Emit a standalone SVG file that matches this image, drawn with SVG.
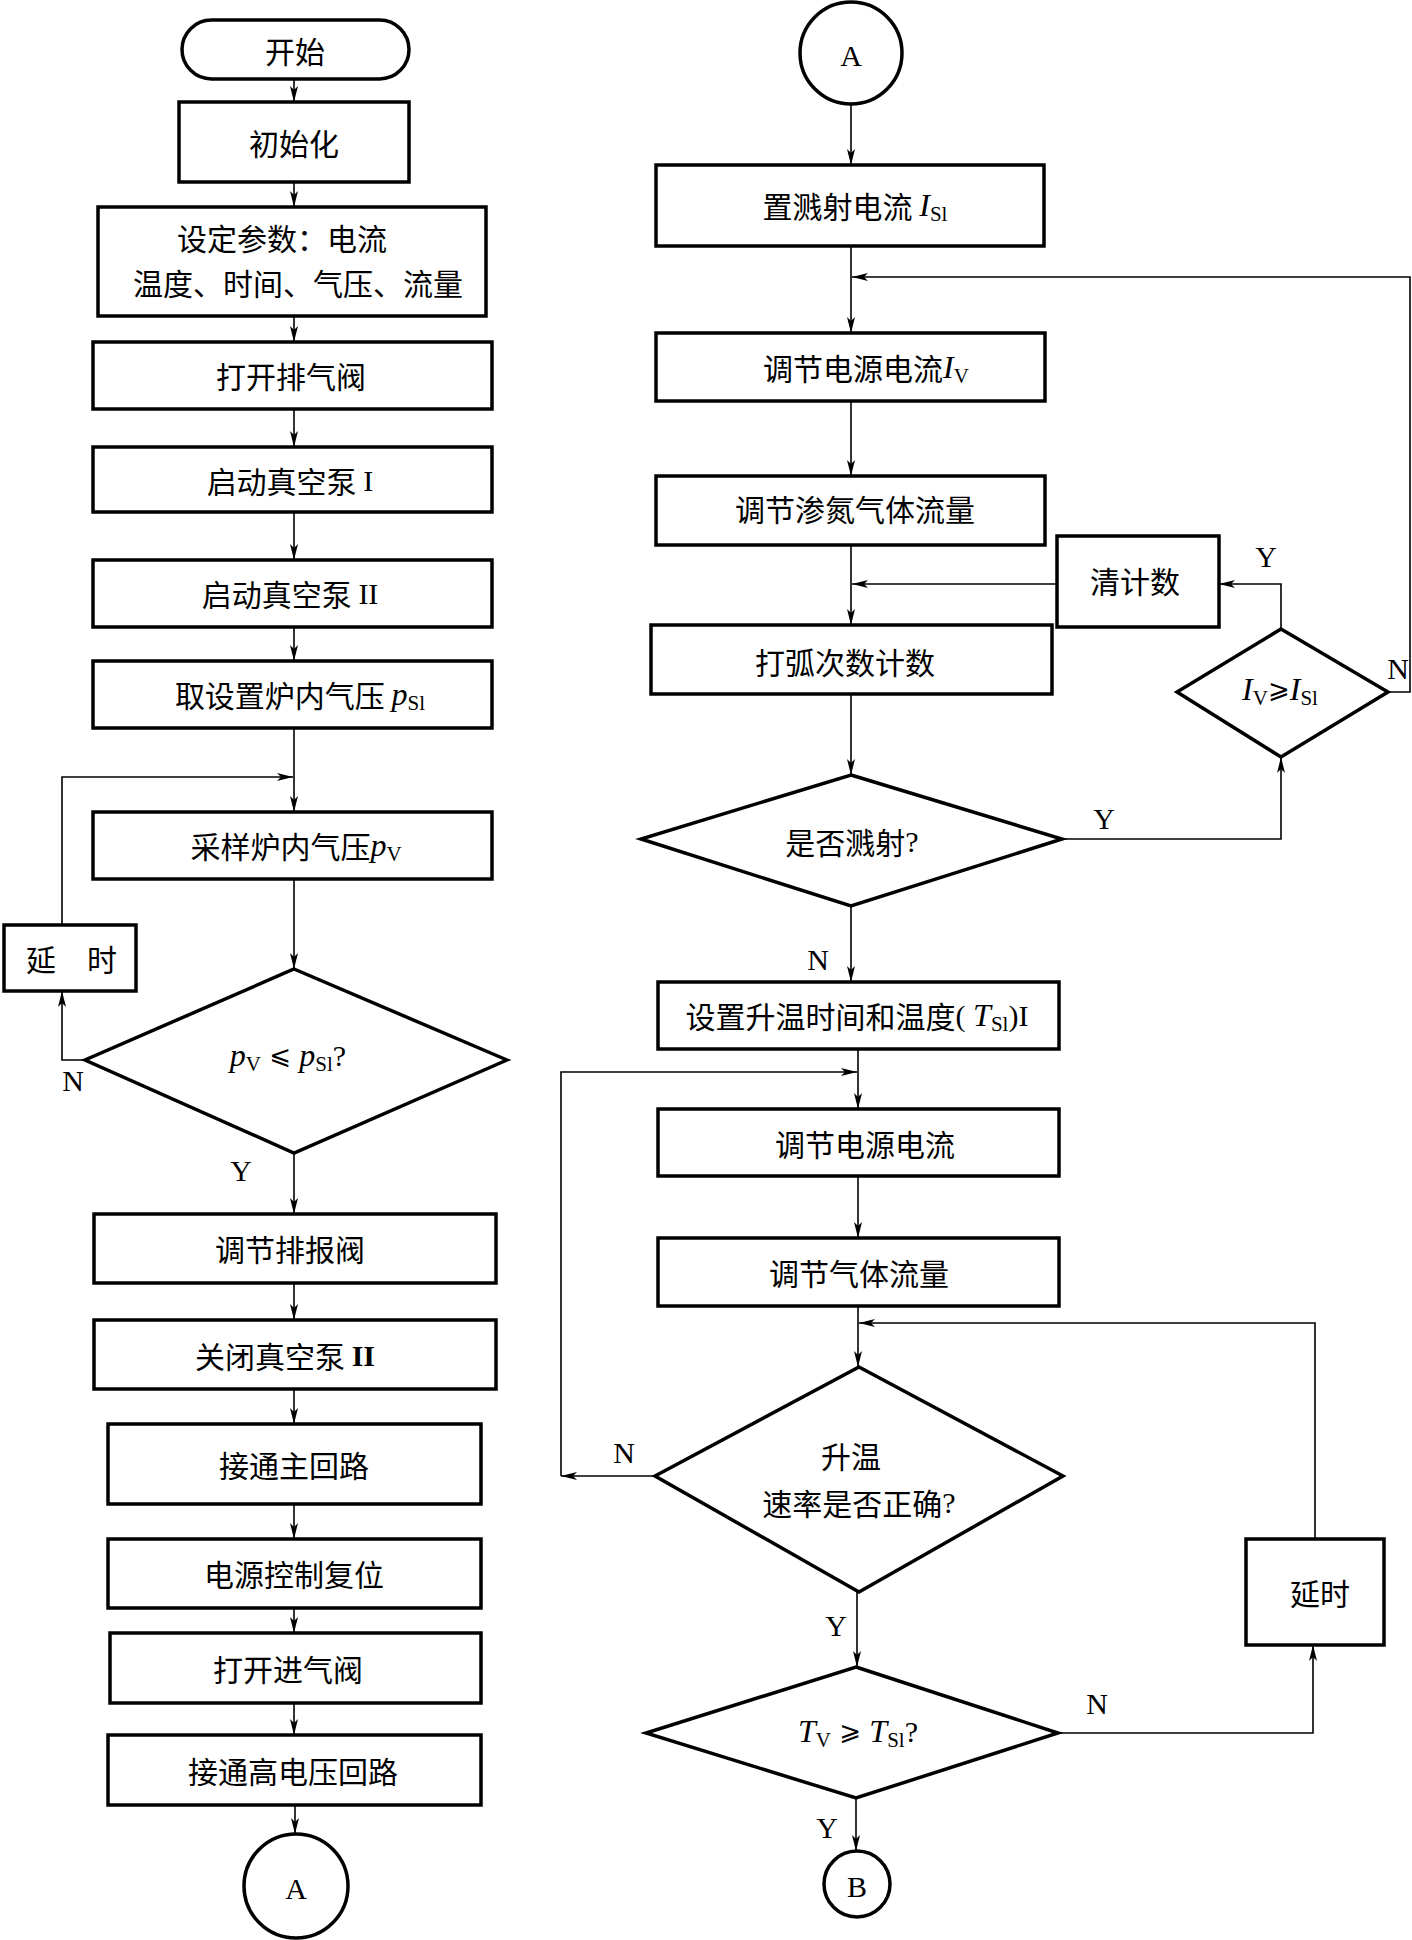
<svg xmlns="http://www.w3.org/2000/svg" width="1412" height="1940" viewBox="0 0 1412 1940">
<style>
.box{fill:#fff;stroke:#000;stroke-width:3.5}
.ln{fill:none;stroke:#000;stroke-width:1.6}
.t{font-family:"Noto Sans CJK SC","Noto Sans CJK TC",sans-serif;font-size:30px;text-anchor:middle;dominant-baseline:central;fill:#000}
.lab{font-family:"Liberation Serif",serif;font-size:30px;text-anchor:middle;dominant-baseline:central;fill:#000}
.it{font-family:"Liberation Serif",serif;font-style:italic;font-size:32px}
.sub{font-family:"Liberation Serif",serif;font-size:21px}
.rm{font-family:"Liberation Serif",serif;font-size:30px}
.sym{font-family:"DejaVu Sans",sans-serif;font-size:26px}
</style>
<defs>
<marker id="ah" viewBox="0 0 16 8" refX="16" refY="4" markerWidth="16" markerHeight="8" markerUnits="userSpaceOnUse" orient="auto">
<path d="M0,0 L16,4 L0,8 L4,4 z" fill="#000"/>
</marker>
</defs>
<rect width="1412" height="1940" fill="#fff"/>

<g id="connectors">
<!-- left column -->
<path class="ln" d="M294,79 V102" marker-end="url(#ah)"/>
<path class="ln" d="M294,182 V207" marker-end="url(#ah)"/>
<path class="ln" d="M294,316 V342" marker-end="url(#ah)"/>
<path class="ln" d="M294,409 V447" marker-end="url(#ah)"/>
<path class="ln" d="M294,512 V560" marker-end="url(#ah)"/>
<path class="ln" d="M294,627 V661" marker-end="url(#ah)"/>
<path class="ln" d="M294,728 V812" marker-end="url(#ah)"/>
<path class="ln" d="M62,925 V777 H293" marker-end="url(#ah)"/>
<path class="ln" d="M294,879 V969" marker-end="url(#ah)"/>
<path class="ln" d="M85,1060 H62 V991" marker-end="url(#ah)"/>
<path class="ln" d="M294,1153 V1214" marker-end="url(#ah)"/>
<path class="ln" d="M294,1283 V1320" marker-end="url(#ah)"/>
<path class="ln" d="M294,1389 V1424" marker-end="url(#ah)"/>
<path class="ln" d="M294,1504 V1539" marker-end="url(#ah)"/>
<path class="ln" d="M294,1608 V1633" marker-end="url(#ah)"/>
<path class="ln" d="M294,1703 V1735" marker-end="url(#ah)"/>
<path class="ln" d="M295,1805 V1834" marker-end="url(#ah)"/>
<!-- right column -->
<path class="ln" d="M851,104 V165" marker-end="url(#ah)"/>
<path class="ln" d="M851,246 V333" marker-end="url(#ah)"/>
<path class="ln" d="M1388,692 H1410 V277 H852" marker-end="url(#ah)"/>
<path class="ln" d="M851,401 V476" marker-end="url(#ah)"/>
<path class="ln" d="M851,545 V625" marker-end="url(#ah)"/>
<path class="ln" d="M1057,584 H852" marker-end="url(#ah)"/>
<path class="ln" d="M1281,629 V584 H1219" marker-end="url(#ah)"/>
<path class="ln" d="M851,694 V775" marker-end="url(#ah)"/>
<path class="ln" d="M1062,839 H1281 V757" marker-end="url(#ah)"/>
<path class="ln" d="M851,906 V982" marker-end="url(#ah)"/>
<path class="ln" d="M858,1049 V1109" marker-end="url(#ah)"/>
<path class="ln" d="M655,1476 H561" marker-end="url(#ah)"/>
<path class="ln" d="M561,1476 V1072 H857" marker-end="url(#ah)"/>
<path class="ln" d="M858,1176 V1238" marker-end="url(#ah)"/>
<path class="ln" d="M858,1306 V1367" marker-end="url(#ah)"/>
<path class="ln" d="M1315,1539 V1323 H859" marker-end="url(#ah)"/>
<path class="ln" d="M857,1592 V1667" marker-end="url(#ah)"/>
<path class="ln" d="M1058,1733 H1313 V1645" marker-end="url(#ah)"/>
<path class="ln" d="M856,1798 V1851" marker-end="url(#ah)"/>
</g>

<g id="labels">
<text class="lab" x="73" y="1080">N</text>
<text class="lab" x="241" y="1170">Y</text>
<text class="lab" x="1266" y="556">Y</text>
<text class="lab" x="1398" y="668">N</text>
<text class="lab" x="1104" y="818">Y</text>
<text class="lab" x="818" y="959">N</text>
<text class="lab" x="624" y="1452">N</text>
<text class="lab" x="836" y="1625">Y</text>
<text class="lab" x="1097" y="1703">N</text>
<text class="lab" x="827" y="1827">Y</text>
</g>

<!-- left column nodes -->
<g id="start">
<rect class="box" x="182" y="20" width="227" height="59" rx="29.5"/>
<text class="t" x="295" y="50">开始</text>
</g>
<g id="init">
<rect class="box" x="179" y="102" width="230" height="80"/>
<text class="t" x="294" y="142">初始化</text>
</g>
<g id="params">
<rect class="box" x="98" y="207" width="388" height="109"/>
<text class="t" x="282" y="237">设定参数：电流</text>
<text class="t" x="298" y="282">温度、时间、气压、流量</text>
</g>
<g id="open-exhaust">
<rect class="box" x="93" y="342" width="399" height="67"/>
<text class="t" x="291" y="375">打开排气阀</text>
</g>
<g id="pump1">
<rect class="box" x="93" y="447" width="399" height="65"/>
<text class="t" x="290" y="480">启动真空泵 <tspan class="rm">I</tspan></text>
</g>
<g id="pump2">
<rect class="box" x="93" y="560" width="399" height="67"/>
<text class="t" x="290" y="593">启动真空泵 <tspan class="rm">II</tspan></text>
</g>
<g id="set-pressure">
<rect class="box" x="93" y="661" width="399" height="67"/>
<text class="t" x="300" y="694">取设置炉内气压 <tspan class="it">p</tspan><tspan class="sub" dy="9">Sl</tspan></text>
</g>
<g id="sample-pressure">
<rect class="box" x="93" y="812" width="399" height="67"/>
<text class="t" x="296" y="845">采样炉内气压<tspan class="it">p</tspan><tspan class="sub" dy="9">V</tspan></text>
</g>
<g id="delay-left">
<rect class="box" x="4" y="925" width="132" height="66"/>
<text class="t" x="41" y="958">延</text>
<text class="t" x="102" y="958">时</text>
</g>
<g id="cmp-pressure">
<polygon class="box" points="294,969 507,1060 294,1153 85,1060"/>
<text class="t" x="288" y="1055"><tspan class="it">p</tspan><tspan class="sub" dy="9">V</tspan><tspan class="sym" dy="-9">  ⩽  </tspan><tspan class="it">p</tspan><tspan class="sub" dy="9">Sl</tspan><tspan class="rm" dy="-9">?</tspan></text>
</g>
<g id="adjust-valve">
<rect class="box" x="94" y="1214" width="402" height="69"/>
<text class="t" x="290" y="1248">调节排报阀</text>
</g>
<g id="close-pump2">
<rect class="box" x="94" y="1320" width="402" height="69"/>
<text class="t" x="285" y="1355">关闭真空泵 <tspan class="rm" font-weight="bold">II</tspan></text>
</g>
<g id="main-circuit">
<rect class="box" x="108" y="1424" width="373" height="80"/>
<text class="t" x="294" y="1464">接通主回路</text>
</g>
<g id="power-reset">
<rect class="box" x="108" y="1539" width="373" height="69"/>
<text class="t" x="294" y="1573">电源控制复位</text>
</g>
<g id="open-inlet">
<rect class="box" x="110" y="1633" width="371" height="70"/>
<text class="t" x="288" y="1668">打开进气阀</text>
</g>
<g id="hv-circuit">
<rect class="box" x="108" y="1735" width="373" height="70"/>
<text class="t" x="293" y="1770">接通高电压回路</text>
</g>
<g id="conn-a-out">
<circle class="box" cx="296" cy="1886" r="52"/>
<text class="lab" x="296" y="1888" font-size="32">A</text>
</g>

<!-- right column nodes -->
<g id="conn-a-in">
<circle class="box" cx="851" cy="53" r="51"/>
<text class="lab" x="851" y="55" font-size="32">A</text>
</g>
<g id="set-sputter-current">
<rect class="box" x="656" y="165" width="388" height="81"/>
<text class="t" x="855" y="205">置溅射电流 <tspan class="it">I</tspan><tspan class="sub" dy="9">Sl</tspan></text>
</g>
<g id="adjust-current-iv">
<rect class="box" x="656" y="333" width="389" height="68"/>
<text class="t" x="866" y="367">调节电源电流<tspan class="it">I</tspan><tspan class="sub" dy="9">V</tspan></text>
</g>
<g id="adjust-nitrogen">
<rect class="box" x="656" y="476" width="389" height="69"/>
<text class="t" x="855" y="508">调节渗氮气体流量</text>
</g>
<g id="clear-count">
<rect class="box" x="1057" y="536" width="162" height="91"/>
<text class="t" x="1135" y="580">清计数</text>
</g>
<g id="arc-count">
<rect class="box" x="651" y="625" width="401" height="69"/>
<text class="t" x="845" y="661">打弧次数计数</text>
</g>
<g id="cmp-current">
<polygon class="box" points="1281,629 1388,692 1281,757 1177,692"/>
<text class="t" x="1280" y="689"><tspan class="it">I</tspan><tspan class="sub" dy="9">V</tspan><tspan class="sym" dy="-9">⩾</tspan><tspan class="it">I</tspan><tspan class="sub" dy="9">Sl</tspan></text>
</g>
<g id="is-sputter">
<polygon class="box" points="851,775 1062,839 851,906 641,839"/>
<text class="t" x="852" y="841">是否溅射<tspan class="rm">?</tspan></text>
</g>
<g id="set-heating">
<rect class="box" x="658" y="982" width="401" height="67"/>
<text class="t" x="857" y="1015">设置升温时间和温度<tspan class="rm">( </tspan><tspan class="it">T</tspan><tspan class="sub" dy="9">Sl</tspan><tspan class="rm" dy="-9">)I</tspan></text>
</g>
<g id="adjust-current">
<rect class="box" x="658" y="1109" width="401" height="67"/>
<text class="t" x="865" y="1143">调节电源电流</text>
</g>
<g id="adjust-gas">
<rect class="box" x="658" y="1238" width="401" height="68"/>
<text class="t" x="859" y="1272">调节气体流量</text>
</g>
<g id="heating-rate">
<polygon class="box" points="859,1367 1063,1476 859,1592 655,1476"/>
<text class="t" x="851" y="1455">升温</text>
<text class="t" x="859" y="1502">速率是否正确<tspan class="rm">?</tspan></text>
</g>
<g id="delay-right">
<rect class="box" x="1246" y="1539" width="138" height="106"/>
<text class="t" x="1320" y="1592">延时</text>
</g>
<g id="cmp-temp">
<polygon class="box" points="856,1667 1058,1733 856,1798 646,1733"/>
<text class="t" x="858" y="1731"><tspan class="it">T</tspan><tspan class="sub" dy="9">V</tspan><tspan class="sym" dy="-9"> ⩾ </tspan><tspan class="it">T</tspan><tspan class="sub" dy="9">Sl</tspan><tspan class="rm" dy="-9">?</tspan></text>
</g>
<g id="conn-b">
<circle class="box" cx="857" cy="1884" r="33"/>
<text class="lab" x="857" y="1886" font-size="28">B</text>
</g>
</svg>
